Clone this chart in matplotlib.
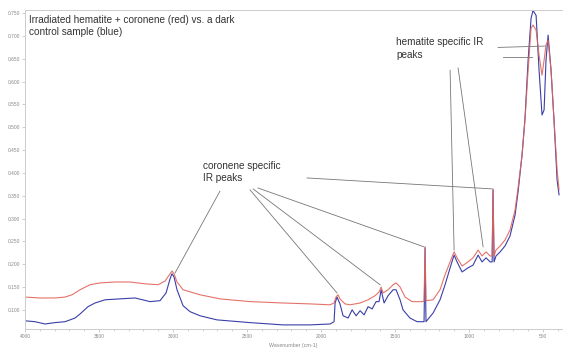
import matplotlib
matplotlib.use("Agg")
import matplotlib.pyplot as plt
from matplotlib.ticker import MultipleLocator, FormatStrFormatter

plt.rcParams['font.family'] = ['Liberation Sans', 'DejaVu Sans']

# FTIR spectra, wavenumber (cm-1) vs absorbance
red_wn = [4000, 3899, 3797, 3730, 3682, 3628, 3561, 3493, 3392, 3291,
          3189, 3101, 3054, 3020, 3007, 2993, 2973, 2932, 2818, 2682,
          2480, 2257, 2074, 1939, 1912, 1899, 1885, 1872, 1838, 1804,
          1736, 1682, 1635, 1608, 1594, 1581, 1547, 1513, 1493, 1466,
          1432, 1385, 1311, 1304, 1297, 1291, 1243, 1196, 1162, 1128,
          1101, 1081, 1047, 1007, 973, 939, 912, 885, 858, 844,
          838, 831, 818, 790, 757, 723, 689, 669, 642, 622,
          601, 581, 568, 547, 527, 507, 493, 480, 466, 446,
          426, 405, 392]
red_abs = [0.128, 0.126, 0.126, 0.128, 0.133, 0.144, 0.155, 0.159, 0.161, 0.161,
           0.157, 0.155, 0.163, 0.179, 0.185, 0.179, 0.161, 0.144, 0.133, 0.124,
           0.118, 0.115, 0.113, 0.111, 0.115, 0.128, 0.133, 0.124, 0.113, 0.111,
           0.115, 0.122, 0.131, 0.139, 0.150, 0.137, 0.144, 0.155, 0.159, 0.150,
           0.128, 0.118, 0.118, 0.120, 0.238, 0.120, 0.122, 0.144, 0.177, 0.205,
           0.227, 0.214, 0.196, 0.205, 0.214, 0.231, 0.218, 0.227, 0.218, 0.218,
           0.365, 0.218, 0.231, 0.240, 0.253, 0.275, 0.319, 0.367, 0.439, 0.516,
           0.625, 0.717, 0.724, 0.713, 0.658, 0.614, 0.647, 0.680, 0.691, 0.625,
           0.516, 0.406, 0.363]

blue_wn = [4000, 3932, 3865, 3797, 3730, 3696, 3662, 3628, 3574, 3527,
           3459, 3358, 3257, 3155, 3088, 3047, 3020, 3007, 2993, 2973,
           2932, 2885, 2818, 2703, 2480, 2257, 2074, 1939, 1912, 1905,
           1892, 1872, 1851, 1817, 1790, 1763, 1736, 1709, 1682, 1655,
           1628, 1608, 1594, 1574, 1547, 1513, 1493, 1466, 1446, 1399,
           1351, 1304, 1297, 1291, 1243, 1196, 1162, 1128, 1101, 1081,
           1047, 1007, 973, 939, 912, 885, 858, 844, 838, 831,
           818, 790, 757, 723, 689, 669, 642, 622, 601, 581,
           568, 547, 527, 507, 493, 480, 466, 446, 426, 405,
           392]
blue_abs = [0.076, 0.074, 0.069, 0.072, 0.074, 0.078, 0.082, 0.091, 0.107, 0.115,
            0.122, 0.124, 0.126, 0.118, 0.120, 0.137, 0.168, 0.179, 0.172, 0.144,
            0.109, 0.096, 0.087, 0.078, 0.072, 0.067, 0.067, 0.069, 0.074, 0.115,
            0.128, 0.113, 0.087, 0.082, 0.100, 0.087, 0.098, 0.089, 0.107, 0.102,
            0.118, 0.118, 0.144, 0.115, 0.131, 0.144, 0.144, 0.122, 0.100, 0.082,
            0.074, 0.074, 0.236, 0.074, 0.093, 0.122, 0.155, 0.192, 0.220, 0.205,
            0.183, 0.192, 0.198, 0.220, 0.205, 0.214, 0.205, 0.205, 0.363, 0.205,
            0.218, 0.227, 0.240, 0.262, 0.308, 0.358, 0.439, 0.520, 0.647, 0.739,
            0.756, 0.745, 0.625, 0.527, 0.538, 0.647, 0.702, 0.625, 0.516, 0.384,
            0.352]

y_ticks = [0.10, 0.15, 0.20, 0.25, 0.30, 0.35, 0.40, 0.45, 0.50, 0.55, 0.60, 0.65, 0.70, 0.75]
x_ticks = [4000, 3500, 3000, 2500, 2000, 1500, 1000, 500]

# label positions (wn, abs) and the peaks each leader line points at
hematite_label = (1493, 0.697)
hematite_lines = [((804, 0.675), (486, 0.678)),
                  ((770, 0.654), (574, 0.654)),
                  ((1128, 0.625), (1101, 0.231)),
                  ((1074, 0.630), (905, 0.238))]
coronene_label = (2797, 0.426)
coronene_lines = [((2683, 0.360), (2986, 0.181)),
                  ((2480, 0.363), (1892, 0.137)),
                  ((2459, 0.365), (1601, 0.155)),
                  ((2426, 0.367), (1304, 0.238)),
                  ((2095, 0.389), (844, 0.365))]

fig = plt.figure(figsize=(5.64, 3.51), dpi=100)
ax = fig.add_axes([25 / 564, 22 / 351, 537 / 564, 319 / 351])

ax.plot(blue_wn, blue_abs, color='#3a3fa8', lw=0.8)
ax.plot(red_wn, red_abs, color='#e0645a', lw=0.8, alpha=0.9)

ax.set_xlim(4000, 372)
ax.set_ylim(0.058, 0.757)
ax.set_xticks(x_ticks)
ax.xaxis.set_minor_locator(MultipleLocator(100))
ax.set_yticks(y_ticks)
ax.yaxis.set_major_formatter(FormatStrFormatter('%.3f'))
ax.tick_params(which='both', direction='out', length=2, width=0.5,
               color='#bbbbbb', labelcolor='#888888', labelsize=3.5, pad=1.5)
ax.tick_params(which='minor', length=1.2)
for side in ['left', 'bottom', 'top']:
    ax.spines[side].set_color('#cccccc')
    ax.spines[side].set_linewidth(0.7)
ax.spines['right'].set_visible(False)
ax.set_xlabel('Wavenumber (cm-1)', fontsize=3.8, color='#888888', labelpad=3)

ax.text(0.008, 0.985, 'Irradiated hematite + coronene (red) vs. a dark\ncontrol sample (blue)',
        transform=ax.transAxes, ha='left', va='top', fontsize=7.2,
        color='#333333', linespacing=1.3)

ax.text(*hematite_label, 'hematite specific IR\npeaks', ha='left', va='top',
        fontsize=7.2, color='#333333', linespacing=1.3)
ax.text(*coronene_label, 'coronene specific\nIR peaks', ha='left', va='top',
        fontsize=7.2, color='#333333', linespacing=1.3)

for start, end in hematite_lines + coronene_lines:
    ax.plot([start[0], end[0]], [start[1], end[1]], color='#777777', lw=0.6)

fig.savefig('out.png', dpi=100, facecolor='white')
